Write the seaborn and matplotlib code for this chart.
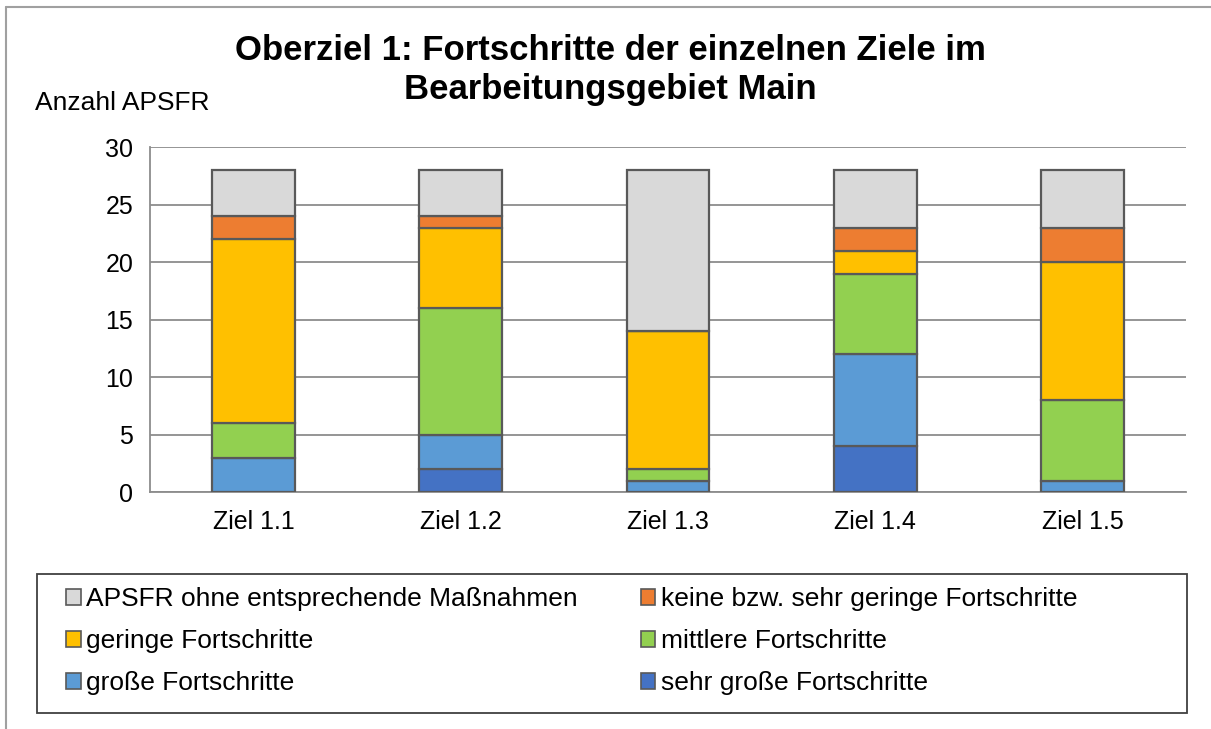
import numpy as np
import pandas as pd
import seaborn as sns
from matplotlib import pyplot as plt
from matplotlib.patches import Patch, Rectangle
from matplotlib.lines import Line2D

# data
ziele = ['Ziel 1.1', 'Ziel 1.2', 'Ziel 1.3', 'Ziel 1.4', 'Ziel 1.5']
sehr_gross = [0, 2, 0, 4, 0]
gross = [3, 3, 1, 8, 1]
mittlere = [3, 11, 1, 7, 7]
geringe = [16, 7, 12, 2, 12]
keine = [2, 1, 0, 2, 3]
ohne = [4, 4, 14, 5, 5]

series = [
    ('sehr große Fortschritte', sehr_gross, '#4472c4'),
    ('große Fortschritte', gross, '#5b9bd5'),
    ('mittlere Fortschritte', mittlere, '#92d050'),
    ('geringe Fortschritte', geringe, '#ffc000'),
    ('keine bzw. sehr geringe Fortschritte', keine, '#ed7d31'),
    ('APSFR ohne entsprechende Maßnahmen', ohne, '#d9d9d9'),
]

sns.set_style('white')
plt.rcParams['font.family'] = ['Liberation Sans', 'DejaVu Sans']
plt.rcParams['text.color'] = 'black'
plt.rcParams['xtick.color'] = 'black'
plt.rcParams['ytick.color'] = 'black'

W, H = 1211, 729
fig = plt.figure(figsize=(W / 100, H / 100), dpi=100)
ax = fig.add_axes([150 / W, 1 - 492 / H, 1036 / W, 345 / H])

bottom = np.zeros(len(ziele))
for name, vals, col in series:
    df = pd.DataFrame({'ziel': ziele, 'n': vals})
    sns.barplot(data=df, x='ziel', y='n', bottom=bottom, color=col, width=0.4,
                edgecolor='#595959', linewidth=1.6, saturation=1, ax=ax, zorder=3)
    bottom = bottom + np.array(vals)

ax.set_xlim(-0.5, len(ziele) - 0.5)
ax.set_ylim(0, 30)
ax.set_yticks(range(0, 31, 5))
ax.set_xlabel('')
ax.set_ylabel('')
ax.grid(axis='y', color='#8c8c8c', linewidth=1.3, zorder=0)
ax.set_axisbelow(True)
for s in ['top', 'right']:
    ax.spines[s].set_visible(False)
for s in ['left', 'bottom']:
    ax.spines[s].set_color('#8c8c8c')
    ax.spines[s].set_linewidth(1.3)
ax.tick_params(axis='x', which='major', length=0, labelsize=18, pad=13)
ax.set_xticks(np.arange(-0.5, len(ziele), 1.0), minor=True)
ax.tick_params(axis='x', which='minor', length=6, width=1.3, color='#8c8c8c')
ax.tick_params(axis='y', length=6, width=1.3, color='#8c8c8c', labelsize=18, pad=6)

fig.text(610 / W, 1 - 70 / H, 'Oberziel 1: Fortschritte der einzelnen Ziele im\nBearbeitungsgebiet Main',
         ha='center', va='center', fontsize=25, fontweight='bold', linespacing=1.2)
fig.text(35 / W, 1 - 103 / H, 'Anzahl APSFR', ha='left', va='center', fontsize=19)

# legend: column order as in the chart
order = [5, 3, 1, 4, 2, 0]
handles = [Patch(facecolor=series[i][2], edgecolor='#595959', linewidth=1.2, label=series[i][0]) for i in order]
leg = fig.legend(handles=handles, ncol=2, loc='upper left',
                 bbox_to_anchor=(66 / W, 1 - 587 / H),
                 fontsize=19, frameon=False, handlelength=0.55, handleheight=0.55,
                 handletextpad=0.2, borderpad=0, labelspacing=0.68, borderaxespad=0,
                 columnspacing=2.4)
fig.add_artist(Rectangle((37 / W, 1 - 713 / H), 1150 / W, 139 / H, transform=fig.transFigure,
                         facecolor='none', edgecolor='#404040', linewidth=1.3))

# outer chart frame (cut at right and bottom)
fig.add_artist(Line2D([6 / W, 6 / W], [0, 1 - 7 / H], color='#a0a0a0', linewidth=1.5))
fig.add_artist(Line2D([6 / W, 1], [1 - 7 / H, 1 - 7 / H], color='#a0a0a0', linewidth=1.5))

fig.savefig('out.png', dpi=100)
